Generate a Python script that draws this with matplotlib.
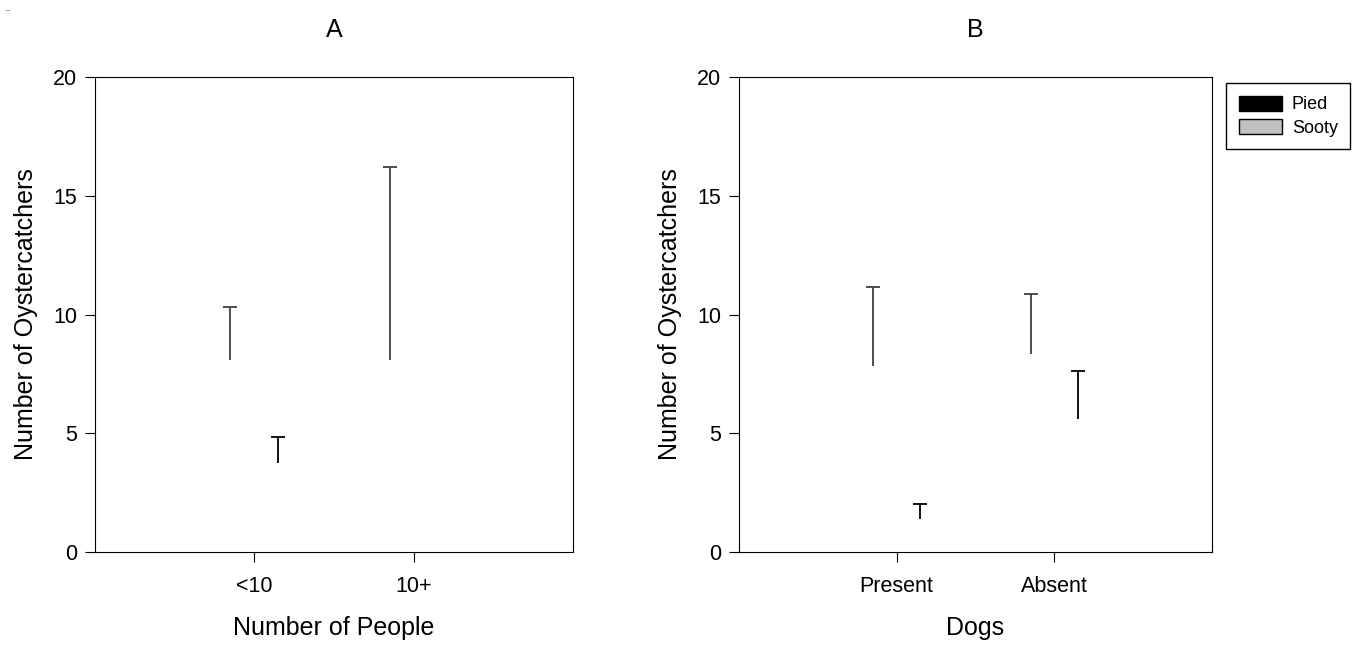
import numpy as np
import matplotlib.pyplot as plt
from matplotlib.patches import Patch

plt.rcParams['font.family'] = ['Liberation Sans', 'DejaVu Sans']

# Panel A: number of people
people = ["<10", "10+"]
pied_people = [8.1, 8.1]
pied_people_se = [2.2, 8.1]
sooty_people = [3.75, 0.0]
sooty_people_se = [1.1, 0.0]

# Panel B: dogs
dogs = ["Present", "Absent"]
pied_dogs = [7.85, 8.35]
pied_dogs_se = [3.3, 2.5]
sooty_dogs = [1.4, 5.6]
sooty_dogs_se = [0.63, 2.0]

width = 0.3
fig = plt.figure(figsize=(13.59, 6.45), dpi=100)
axA = fig.add_axes([0.0699, 0.1442, 0.3517, 0.7364])
axB = fig.add_axes([0.5438, 0.1442, 0.3480, 0.7364])


def panel(ax, cats, pied, pied_se, sooty, sooty_se, title, xlabel):
    x = np.arange(len(cats))
    for off, mean, se, col in [(-width / 2, pied, pied_se, "#404040"),
                               (width / 2, sooty, sooty_se, "black")]:
        xs = x + off
        mean = np.array(mean)
        se = np.array(se)
        # bars have no fill, only the upper error bar shows
        ax.bar(xs, mean, width, color="none", edgecolor="none")
        show = se > 0
        ax.vlines(xs[show], mean[show], mean[show] + se[show], color=col, lw=1.3)
        ax.plot(xs[show], mean[show] + se[show], ls="none", marker="_",
                ms=10, mew=1.3, color=col)
    ax.set_xlim(-1, 2)
    ax.set_ylim(0, 20)
    ax.set_yticks([0, 5, 10, 15, 20])
    ax.set_xticks(x)
    ax.set_xticklabels(cats)
    ax.tick_params(direction="out", length=7, labelsize=15.5)
    ax.tick_params(axis="y", pad=6)
    ax.tick_params(axis="x", pad=10)
    ax.set_title(title, fontsize=18, pad=29)
    ax.set_xlabel(xlabel, fontsize=18, labelpad=14)
    ax.set_ylabel("Number of Oystercatchers", fontsize=18, labelpad=11)


panel(axA, people, pied_people, pied_people_se, sooty_people, sooty_people_se,
      "A", "Number of People")
panel(axB, dogs, pied_dogs, pied_dogs_se, sooty_dogs, sooty_dogs_se,
      "B", "Dogs")

handles = [Patch(facecolor="black", edgecolor="black", label="Pied"),
           Patch(facecolor="#c0c0c0", edgecolor="black", label="Sooty")]
leg = fig.legend(handles=handles, loc="upper left", bbox_to_anchor=(0.9021, 0.8713),
                 fontsize=13, handlelength=2.4, handleheight=0.9,
                 handletextpad=0.55, labelspacing=0.3, borderpad=0.7,
                 borderaxespad=0, fancybox=False, framealpha=1)
leg.get_frame().set_edgecolor("black")
leg.get_frame().set_linewidth(1.0)

fig.text(0.004, 0.985, "¨", fontsize=9, va="top")

fig.savefig("out.png", dpi=100)
